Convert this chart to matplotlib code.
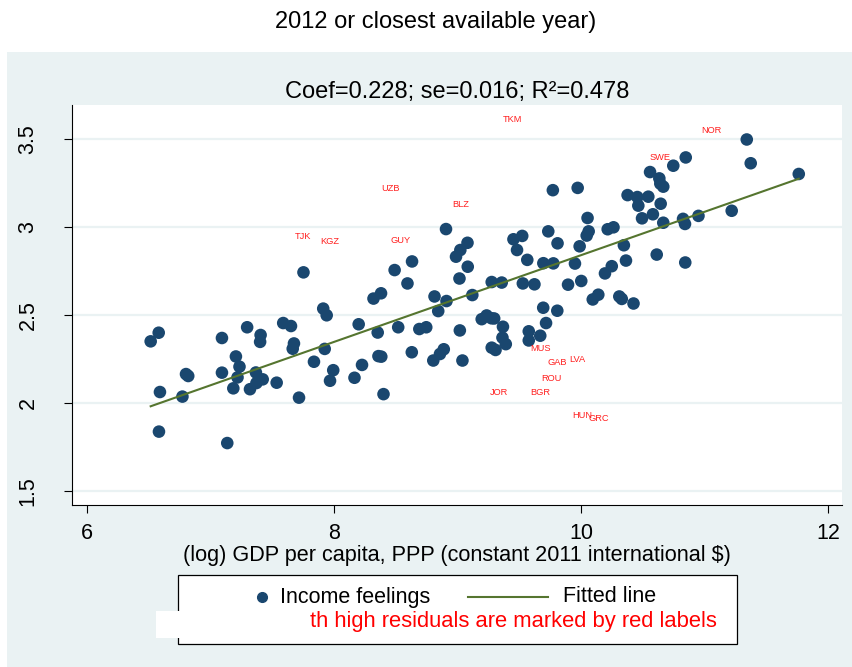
import numpy as np
import matplotlib
matplotlib.use('Agg')
import matplotlib.pyplot as plt
from matplotlib.patches import Rectangle
from matplotlib.lines import Line2D

plt.rcParams['font.family'] = ['Liberation Sans', 'DejaVu Sans']

# log GDP per capita (x) and mean income feelings (y)
gdp = [6.516, 6.581, 6.591, 6.583, 6.773, 6.802, 6.820, 7.093, 7.093, 7.136,
       7.185, 7.206, 7.235, 7.219, 7.297, 7.320, 7.368, 7.372, 7.406, 7.402,
       7.423, 7.536, 7.589, 7.652, 7.676, 7.666, 7.717, 7.753, 7.838, 7.913,
       7.941, 7.925, 7.994, 7.968, 8.200, 8.227, 8.166, 8.320, 8.381, 8.354,
       8.360, 8.383, 8.401, 8.491, 8.632, 8.595, 8.520, 8.691, 8.747, 8.630,
       8.814, 8.844, 8.911, 8.907, 8.858, 8.889, 8.804, 8.988, 9.023, 9.081,
       9.083, 9.016, 9.120, 9.019, 9.040, 9.196, 9.236, 9.275, 9.297, 9.277,
       9.358, 9.368, 9.364, 9.391, 9.277, 9.308, 9.453, 9.524, 9.482, 9.565,
       9.529, 9.623, 9.772, 9.735, 9.810, 9.695, 9.776, 9.694, 9.808, 9.717,
       9.577, 9.670, 9.577, 9.973, 10.053, 10.062, 10.046, 9.989, 9.951, 9.895,
       10.002, 10.216, 10.263, 10.347, 10.249, 10.194, 10.364, 10.377, 10.095, 10.140,
       10.310, 10.330, 10.425, 10.456, 10.545, 10.464, 10.645, 10.582, 10.494, 10.666,
       10.826, 10.842, 10.951, 11.220, 11.763, 11.342, 11.374, 10.848, 10.747, 10.559,
       10.634, 10.642, 10.666, 10.613, 10.844]
feel = [2.352, 2.401, 2.064, 1.839, 2.038, 2.166, 2.155, 2.371, 2.174, 1.774,
        2.085, 2.266, 2.208, 2.147, 2.432, 2.080, 2.175, 2.115, 2.388, 2.349,
        2.136, 2.117, 2.456, 2.439, 2.340, 2.310, 2.032, 2.744, 2.236, 2.538,
        2.500, 2.309, 2.188, 2.128, 2.449, 2.218, 2.145, 2.595, 2.625, 2.402,
        2.268, 2.265, 2.052, 2.757, 2.806, 2.681, 2.432, 2.422, 2.432, 2.290,
        2.607, 2.524, 2.581, 2.990, 2.280, 2.307, 2.243, 2.833, 2.871, 2.912,
        2.776, 2.709, 2.615, 2.414, 2.243, 2.478, 2.499, 2.483, 2.482, 2.689,
        2.686, 2.435, 2.373, 2.336, 2.316, 2.303, 2.932, 2.951, 2.871, 2.815,
        2.681, 2.676, 3.211, 2.977, 2.909, 2.796, 2.795, 2.543, 2.526, 2.456,
        2.409, 2.384, 2.357, 3.224, 3.053, 2.977, 2.953, 2.892, 2.794, 2.674,
        2.695, 2.989, 3.000, 2.898, 2.779, 2.738, 2.811, 3.183, 2.590, 2.617,
        2.607, 2.593, 2.567, 3.172, 3.174, 3.123, 3.134, 3.074, 3.051, 3.026,
        3.048, 3.019, 3.065, 3.094, 3.303, 3.499, 3.364, 3.397, 3.350, 3.314,
        3.278, 3.248, 3.231, 2.845, 2.800]

# fitted line end points
fit_x = [6.516, 11.763]
fit_y = [1.983, 3.276]

# countries with high residuals (red labels)
lab_text = ['TKM', 'NOR', 'SWE', 'UZB', 'BLZ', 'TJK', 'KGZ', 'GUY',
            'MUS', 'GAB', 'LVA', 'ROU', 'JOR', 'BGR', 'HUN', 'GRC']
lab_x = [9.447, 11.058, 10.640, 8.459, 9.028, 7.747, 7.965, 8.543,
         9.674, 9.806, 9.970, 9.761, 9.338, 9.670, 10.008, 10.148]
lab_y = [3.610, 3.549, 3.399, 3.223, 3.132, 2.947, 2.918, 2.924,
         2.309, 2.231, 2.251, 2.139, 2.060, 2.060, 1.930, 1.913]

xticks = [6, 8, 10, 12]
yticks = [1.5, 2, 2.5, 3, 3.5]
ytick_labels = ['1.5', '2', '2.5', '3', '3.5']

W, H = 853, 667
navy = '#1A476F'
olive = '#55752F'
bg = '#EAF2F3'

fig = plt.figure(figsize=(W / 100, H / 100), dpi=100)
fig.patch.set_facecolor('white')
fig.patches.append(Rectangle((7 / W, 0), 1 - 7 / W, 1 - 52 / H, transform=fig.transFigure,
                             facecolor=bg, edgecolor='none', zorder=-5))

ax = fig.add_axes([72 / W, 1 - 505 / H, 770 / W, 400 / H])
ax.set_zorder(1)
ax.set_facecolor('white')
ax.set_xlim(5.879, 12.113)
ax.set_ylim(1.422, 3.695)

for yv in yticks:
    ax.axhline(yv, color=bg, lw=1.6, zorder=1)

ax.scatter(gdp, feel, s=82, color=navy, edgecolors='none', zorder=3)
ax.plot(fit_x, fit_y, color=olive, lw=1.5, zorder=4)

for t, x, y in zip(lab_text, lab_x, lab_y):
    ax.text(x, y, t, color='#FF2020', fontsize=6.7, ha='center', va='center', zorder=5)

ax.set_xticks(xticks)
ax.set_yticks(yticks)
ax.set_xticklabels([str(v) for v in xticks], fontsize=15.5)
ax.set_yticklabels(ytick_labels, fontsize=15.5, rotation=90, va='center')
ax.tick_params(direction='out', length=6, width=0.8, color='black')
ax.tick_params(axis='x', pad=7)
ax.tick_params(axis='y', pad=18)
for s in ['top', 'right']:
    ax.spines[s].set_visible(False)
for s in ['left', 'bottom']:
    ax.spines[s].set_linewidth(0.8)

ax.set_xlabel('(log) GDP per capita, PPP (constant 2011 international $)', fontsize=15.6, labelpad=1)
ax.set_title('Coef=0.228; se=0.016; R\u00b2=0.478', fontsize=17, pad=5)

fig.text(436 / W, 1 - 22 / H, '2012 or closest available year)', fontsize=17,
         ha='center', va='center')

# legend box, drawn by hand to match the original key layout
fig.patches.append(Rectangle((178 / W, 1 - 644 / H), 559 / W, 69 / H, transform=fig.transFigure,
                             facecolor='white', edgecolor='black', lw=0.9, zorder=2))
ky = 1 - 597 / H
fig.add_artist(Line2D([262 / W], [ky], marker='o', markersize=7, color=navy,
                      linestyle='none', transform=fig.transFigure, zorder=3))
fig.text(280 / W, ky, 'Income feelings', fontsize=15.5, ha='left', va='center', zorder=3)
fig.add_artist(Line2D([468 / W, 548 / W], [ky, ky], color=olive, lw=1.5,
                      transform=fig.transFigure, zorder=3))
fig.text(563 / W, ky, 'Fitted line', fontsize=15.5, ha='left', va='center', zorder=3)
fig.patches.append(Rectangle((156 / W, 1 - 638 / H), 150 / W, 27 / H, transform=fig.transFigure,
                             facecolor='white', edgecolor='none', zorder=4))
fig.text(310 / W, 1 - 621 / H, 'th high residuals are marked by red labels', fontsize=15.8,
         color='red', ha='left', va='center', zorder=5)

fig.savefig('out.png', dpi=100)
